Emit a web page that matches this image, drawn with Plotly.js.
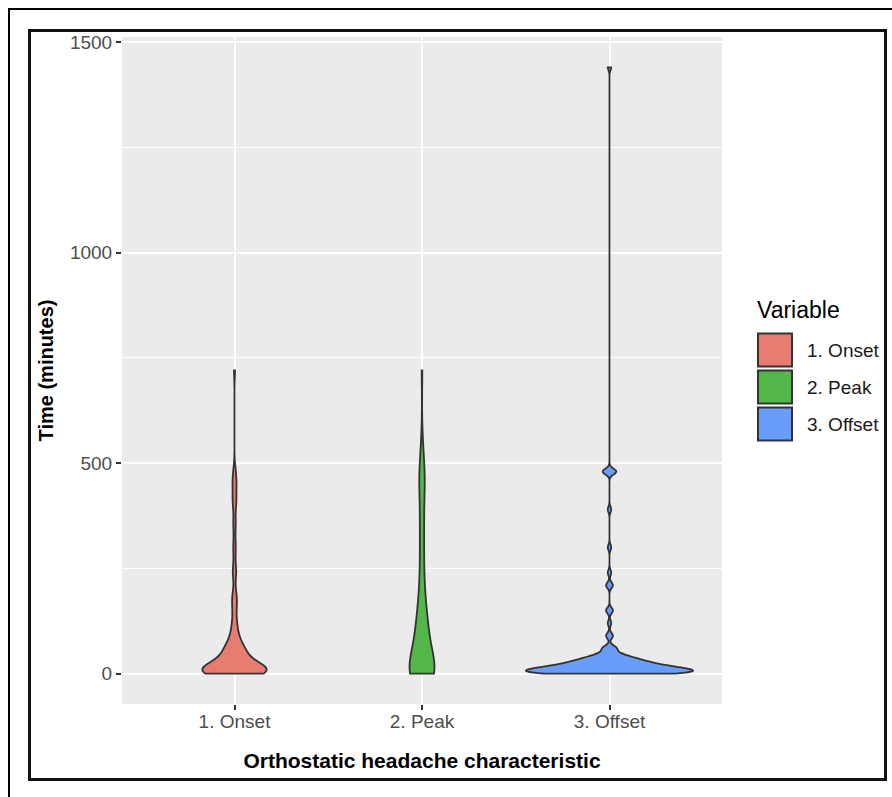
<!DOCTYPE html>
<html>
<head>
<meta charset="utf-8">
<script src="https://cdn.plot.ly/plotly-3.0.1.min.js"></script>
<style>
  html, body { margin:0; padding:0; background:#fff; }
  #wrap { position:relative; width:892px; height:797px; overflow:hidden; }
  #chart { position:absolute; left:0; top:0; width:892px; height:797px; }
  .ln { position:absolute; background:#000; pointer-events:none; }
  #frame { position:absolute; left:28px; top:29px; width:853px; height:746px; border:3px solid #111; pointer-events:none; }
</style>
</head>
<body>
<div id="wrap">
  <div id="chart"></div>
  <div class="ln" style="left:8px;top:8px;width:884px;height:2px;"></div>
  <div class="ln" style="left:8px;top:8px;width:2px;height:789px;"></div>
  <div id="frame"></div>
</div>
<script>
// ---- data (minutes) ----
const categories = ['1. Onset', '2. Peak', '3. Offset'];
const onsetTimes  = [0, 5, 10, 15, 20, 30, 40, 45, 50, 60, 75, 90, 105, 120, 150, 160, 180, 200, 240, 270, 300, 330, 360, 400, 420, 450, 480, 720];
const onsetCounts = [18, 18, 14, 8, 6, 6, 3, 5, 2, 9, 3, 4, 1, 3, 2, 1, 3, 1, 3, 1, 2, 1, 2, 2, 2, 3, 2, 1];
const peakTimes   = [0, 15, 30, 45, 60, 90, 120, 150, 180, 210, 240, 300, 360, 420, 450, 480, 540, 720];
const peakCounts  = [30, 3, 3, 3, 6, 7, 6, 4, 3, 2, 3, 4, 4, 3, 2, 5, 2, 1];
const offsetTimes  = [0, 5, 10, 15, 20, 25, 30, 35, 40, 45, 60, 90, 120, 150, 210, 240, 300, 390, 480, 1440];
const offsetCounts = [18, 18, 14, 12, 10, 5, 9, 3, 4, 4, 4, 2, 1, 2, 2, 1, 1, 1, 4, 1];
const yTickVals = [0, 500, 1000, 1500];
const legendTitle = 'Variable';
const xTitle = 'Orthostatic headache characteristic';
const yTitle = 'Time (minutes)';

// ---- styles ----
const fills = ['#E87C70', '#53B74A', '#6A9DFB'];
const bandwidths = [18, 45, 7];
const widths = [0.341, 0.133, 0.893];
const FONT = 'Liberation Sans, Arial, Helvetica, sans-serif';

function expand(vals, counts) {
  const out = [];
  vals.forEach((v, i) => { for (let k = 0; k < counts[i]; k++) out.push(v); });
  return out;
}
const groups = [
  expand(onsetTimes, onsetCounts),
  expand(peakTimes, peakCounts),
  expand(offsetTimes, offsetCounts)
];

const traces = groups.map((ys, i) => ({
  type: 'violin',
  name: categories[i],
  x: ys.map(() => categories[i]),
  y: ys,
  side: 'both',
  spanmode: 'hard',
  bandwidth: bandwidths[i],
  scalemode: 'width',
  scalegroup: 'g' + i,
  width: widths[i],
  points: false,
  box: { visible: false },
  meanline: { visible: false },
  fillcolor: fills[i],
  line: { color: '#333333', width: 1.8 },
  opacity: 1,
  showlegend: false,
  hoverinfo: 'skip'
}));

// plot area in pixels
const L = 122, R = 722, T = 37, B = 704;
const W = 892, H = 797;
const px2x = p => (p - L) / (R - L);
const py2y = p => (B - p) / (B - T);

const shapes = [];
const annotations = [];
annotations.push({
  xref: 'paper', yref: 'paper', x: px2x(755), y: py2y(310),
  xanchor: 'left', yanchor: 'middle', showarrow: false,
  text: legendTitle, font: { family: FONT, size: 23, color: '#000' }
});
categories.forEach((c, i) => {
  const top = 333.5 + i * 37;
  shapes.push({
    type: 'rect', xref: 'paper', yref: 'paper',
    x0: px2x(758), x1: px2x(792), y0: py2y(top + 33), y1: py2y(top),
    fillcolor: fills[i], line: { color: '#333333', width: 2 }
  });
  annotations.push({
    xref: 'paper', yref: 'paper', x: px2x(805), y: py2y(top + 17),
    xanchor: 'left', yanchor: 'middle', showarrow: false,
    text: c, font: { family: FONT, size: 19, color: '#1a1a1a' }
  });
});

const layout = {
  width: W, height: H,
  margin: { l: L, r: W - R, t: T, b: H - B, pad: 0 },
  paper_bgcolor: '#ffffff',
  plot_bgcolor: '#EBEBEB',
  violinmode: 'overlay',
  showlegend: false,
  font: { family: FONT },
  xaxis: {
    type: 'category',
    categoryorder: 'array', categoryarray: categories,
    range: [-0.6, 2.6],
    showgrid: true, gridcolor: '#ffffff', gridwidth: 2,
    zeroline: false, showline: false,
    ticks: 'outside', ticklen: 5, tickwidth: 2, tickcolor: '#333333',
    ticklabelstandoff: -5,
    tickfont: { family: FONT, size: 19, color: '#4D4D4D' },
    title: { text: xTitle, font: { family: FONT, size: 21, color: '#000', weight: 'bold' }, standoff: 22 },
    fixedrange: true
  },
  yaxis: {
    range: [-72, 1512],
    tickvals: yTickVals, ticktext: yTickVals.map(String),
    showgrid: true, gridcolor: '#ffffff', gridwidth: 2,
    minor: { tickvals: [250, 750, 1250], showgrid: true, gridcolor: '#ffffff', gridwidth: 1, ticks: '' },
    zeroline: false, showline: false,
    ticks: 'outside', ticklen: 5, tickwidth: 2, tickcolor: '#333333',
    tickfont: { family: FONT, size: 19, color: '#4D4D4D' },
    title: { text: yTitle, font: { family: FONT, size: 20, color: '#000', weight: 'bold' }, standoff: 10 },
    fixedrange: true
  },
  shapes: shapes,
  annotations: annotations
};

Plotly.newPlot('chart', traces, layout, { displayModeBar: false, staticPlot: true });
</script>
</body>
</html>
